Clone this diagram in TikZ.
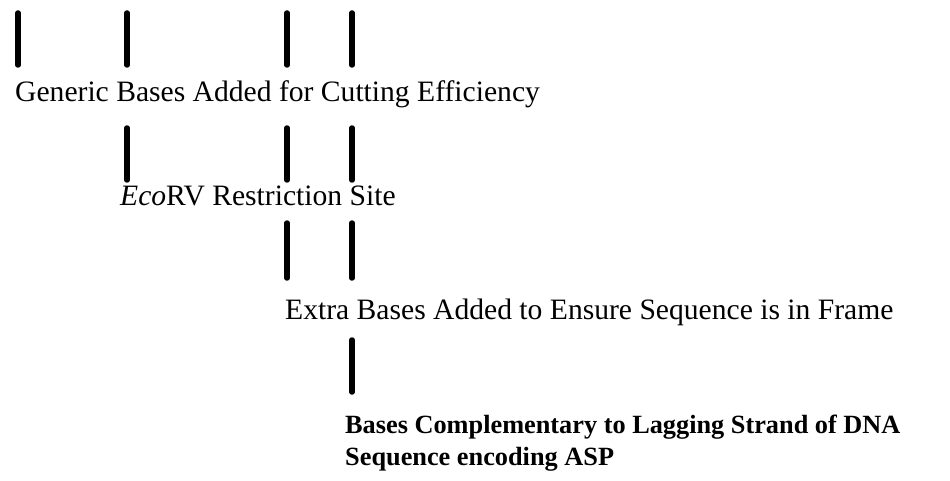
\documentclass[tikz,border=0pt]{standalone}
\usepackage{fontspec}
\setmainfont{Liberation Serif}
\begin{document}
\begin{tikzpicture}[x=1pt,y=-1pt,
  bar/.style={line width=5.5pt,line cap=round},
  lbl/.style={anchor=base west,inner sep=0pt,font=\fontsize{29.6}{32}\selectfont},
  blbl/.style={anchor=base west,inner sep=0pt,font=\fontsize{26.3}{32}\bfseries\selectfont}]
\useasboundingbox (0,0) rectangle (950,481);
% column coordinates
\foreach \n/\x in {a/18,b/127,c/287,d/352}{
  \coordinate (\n1t) at (\x,13); \coordinate (\n1b) at (\x,65);
  \coordinate (\n2t) at (\x,128); \coordinate (\n2b) at (\x,180);
  \coordinate (\n3t) at (\x,223); \coordinate (\n3b) at (\x,278);
  \coordinate (\n4t) at (\x,340); \coordinate (\n4b) at (\x,392);
}
% row 1
\draw[bar] (a1t) -- (a1b);
\draw[bar] (b1t) -- (b1b);
\draw[bar] (c1t) -- (c1b);
\draw[bar] (d1t) -- (d1b);
\node[lbl] (t1) at (15,102) {Generic Bases Added for Cutting Efficiency};
% row 2
\draw[bar] (b2t) -- (b2b);
\draw[bar] (c2t) -- (c2b);
\draw[bar] (d2t) -- (d2b);
\node[lbl] (t2) at (120,205) {\textit{Eco}RV Restriction Site};
% row 3
\draw[bar] (c3t) -- (c3b);
\draw[bar] (d3t) -- (d3b);
\node[lbl] (t3) at (285,319) {Extra Bases Added to Ensure Sequence is in Frame};
% row 4
\draw[bar] (d4t) -- (d4b);
\node[blbl] (t4) at (345,433) {Bases Complementary to Lagging Strand of DNA};
\node[blbl] (t5) at (345,465) {Sequence encoding ASP};
\end{tikzpicture}
\end{document}
